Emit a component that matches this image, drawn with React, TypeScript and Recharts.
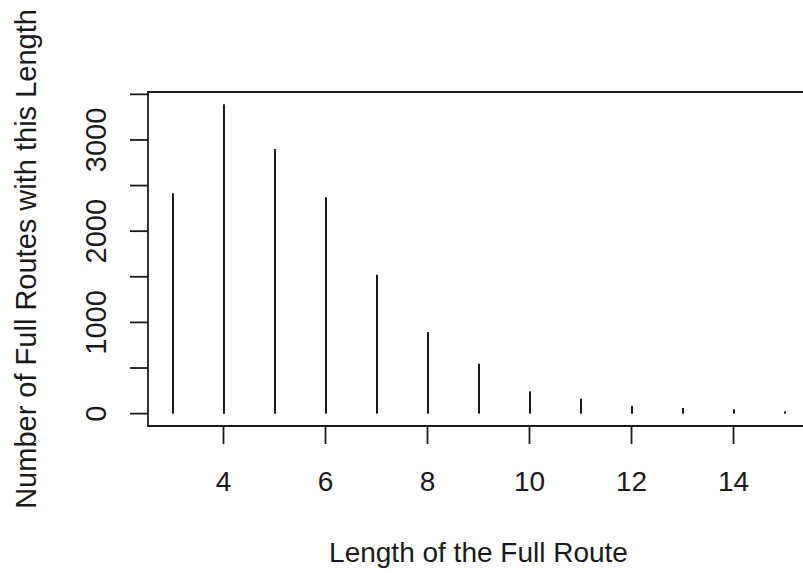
import React from "react";
import {
  ComposedChart,
  Bar,
  XAxis,
  YAxis,
  ReferenceArea,
} from "recharts";

// route length vs. number of full routes
const routeLengths = [3, 4, 5, 6, 7, 8, 9, 10, 11, 12, 13, 14, 15];
const routeCounts = [2416, 3390, 2900, 2372, 1522, 894, 547, 244, 164, 84, 62, 47, 25];
const xTicks = [4, 6, 8, 10, 12, 14];
const yTicks = [0, 500, 1000, 1500, 2000, 2500, 3000, 3500];
const yLabelled = [0, 1000, 2000, 3000];

const data = routeLengths.map((len, i) => ({ len, count: routeCounts[i] }));

// R's default 4% axis expansion
const xPad = (Math.max(...routeLengths) - Math.min(...routeLengths)) * 0.04;
const xDomain = [Math.min(...routeLengths) - xPad, Math.max(...routeLengths) + xPad];
const yPad = Math.max(...routeCounts) * 0.04;
const yDomain = [-yPad, Math.max(...routeCounts) + yPad];

const INK = "#1a1a1a";
const FONT = "'Liberation Sans', Arial, sans-serif";

const Spike = (props: any) => {
  const { x, y, width, height } = props;
  const cx = x + width / 2;
  return <line x1={cx} x2={cx} y1={y} y2={y + height} stroke={INK} strokeWidth={2} />;
};

const XTick = (props: any) => {
  const { x, y, payload } = props;
  return (
    <text x={x} y={y + 47} textAnchor="middle" fontSize={28} fontFamily={FONT} fill={INK}>
      {payload.value}
    </text>
  );
};

const YTick = (props: any) => {
  const { x, y, payload } = props;
  if (!yLabelled.includes(payload.value)) return null;
  const bx = x - 23.5;
  return (
    <text
      x={bx}
      y={y}
      transform={`rotate(-90, ${bx}, ${y})`}
      textAnchor="middle"
      fontSize={29}
      fontFamily={FONT}
      fill={INK}
    >
      {payload.value}
    </text>
  );
};

export default function App() {
  return (
    <div style={{ width: 803, height: 573, overflow: "hidden", background: "#fff" }}>
      <style>{"body{margin:0}"}</style>
      <ComposedChart
        width={820}
        height={573}
        data={data}
        margin={{ top: 92, right: 11, bottom: 0, left: 0 }}
      >
        <XAxis
          dataKey="len"
          type="number"
          domain={xDomain}
          ticks={xTicks}
          allowDataOverflow
          height={147}
          axisLine={false}
          tickSize={18}
          tickMargin={0}
          tickLine={{ stroke: INK, strokeWidth: 1.8 }}
          tick={<XTick />}
          label={{
            content: (p: any) => {
              const vb = p.viewBox;
              return (
                <text
                  x={vb.x + vb.width / 2}
                  y={vb.y + 136}
                  textAnchor="middle"
                  fontSize={28}
                  fontFamily={FONT}
                  fill={INK}
                >
                  Length of the Full Route
                </text>
              );
            },
          }}
        />
        <YAxis
          type="number"
          domain={yDomain}
          ticks={yTicks}
          allowDataOverflow
          width={148}
          axisLine={false}
          tickSize={18}
          tickMargin={0}
          tickLine={{ stroke: INK, strokeWidth: 1.8 }}
          tick={<YTick />}
          label={{
            content: (p: any) => {
              const vb = p.viewBox;
              const cy = vb.y + vb.height / 2;
              return (
                <text
                  x={36}
                  y={cy}
                  transform={`rotate(-90, 36, ${cy})`}
                  textAnchor="middle"
                  fontSize={29}
                  fontFamily={FONT}
                  fill={INK}
                >
                  Number of Full Routes with this Length
                </text>
              );
            },
          }}
        />
        <ReferenceArea
          x1={xDomain[0]}
          x2={xDomain[1]}
          y1={yDomain[0]}
          y2={yDomain[1]}
          fill="none"
          fillOpacity={0}
          stroke={INK}
          strokeWidth={1.8}
          ifOverflow="visible"
        />
        <Bar dataKey="count" barSize={2} shape={<Spike />} isAnimationActive={false} />
      </ComposedChart>
    </div>
  );
}
